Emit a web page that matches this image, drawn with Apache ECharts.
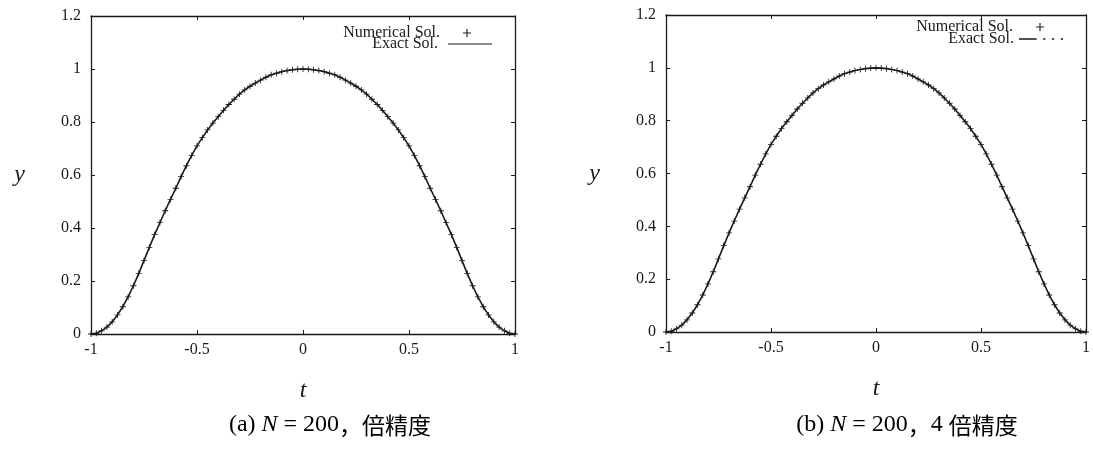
<!DOCTYPE html>
<html>
<head>
<meta charset="utf-8">
<script src="https://cdn.jsdelivr.net/npm/echarts@6/dist/echarts.min.js"></script>
<style>
html,body{margin:0;padding:0;background:#fff;}
#chart{width:1093px;height:453px;}
</style>
</head>
<body>
<div id="chart"></div>
<script>
// ---- data ----
const tValues = [
  -1, -0.975, -0.95, -0.925, -0.9, -0.875, -0.85, -0.825, -0.8, -0.775,
  -0.75, -0.725, -0.7, -0.675, -0.65, -0.625, -0.6, -0.575, -0.55, -0.525,
  -0.5, -0.475, -0.45, -0.425, -0.4, -0.375, -0.35, -0.325, -0.3, -0.275,
  -0.25, -0.225, -0.2, -0.175, -0.15, -0.125, -0.1, -0.075, -0.05, -0.025,
  0,
  0.025, 0.05, 0.075, 0.1, 0.125, 0.15, 0.175, 0.2, 0.225, 0.25,
  0.275, 0.3, 0.325, 0.35, 0.375, 0.4, 0.425, 0.45, 0.475, 0.5,
  0.525, 0.55, 0.575, 0.6, 0.625, 0.65, 0.675, 0.7, 0.725, 0.75,
  0.775, 0.8, 0.825, 0.85, 0.875, 0.9, 0.925, 0.95, 0.975, 1
];
const yNumerical = [
  0.000, 0.003, 0.012, 0.026, 0.046, 0.072, 0.103, 0.140, 0.182, 0.228,
  0.277, 0.327, 0.375, 0.420, 0.465, 0.508, 0.550, 0.594, 0.635, 0.674,
  0.710, 0.741, 0.770, 0.796, 0.820, 0.844, 0.866, 0.886, 0.905, 0.921,
  0.935, 0.947, 0.958, 0.969, 0.978, 0.984, 0.990, 0.994, 0.997, 0.999,
  1.000,
  0.999, 0.997, 0.994, 0.990, 0.984, 0.978, 0.969, 0.958, 0.947, 0.935,
  0.921, 0.905, 0.886, 0.866, 0.844, 0.820, 0.796, 0.770, 0.741, 0.710,
  0.674, 0.635, 0.594, 0.550, 0.508, 0.465, 0.420, 0.375, 0.327, 0.277,
  0.228, 0.182, 0.140, 0.103, 0.072, 0.046, 0.026, 0.012, 0.003, 0.000
];
const yExact = yNumerical.slice();
const xTicks = [-1, -0.5, 0, 0.5, 1];
const yTicks = [0, 0.2, 0.4, 0.6, 0.8, 1, 1.2];
const seriesNames = ['Numerical Sol.', 'Exact Sol.'];
const panelCaptions = [
  {label: '(a) ', n: '200', prefix: '', kanji: '倍精度'},
  {label: '(b) ', n: '200', prefix: '4 ', kanji: '倍精度'}
];

// ---- layout / style ----
const INK = '#1a1a1a';
const SERIF = 'Liberation Serif';
const grids = [
  {left: 91, top: 16, width: 424, height: 318},
  {left: 666, top: 15, width: 424, height: 317}
];
const plusPath = 'path://M4.3,0H5.7V4.3H10V5.7H5.7V10H4.3V5.7H0V4.3H4.3Z';
const solidIcon = 'path://M0,4.4H44V5.6H0Z';
const dashIcon = 'path://M0,4.4H16V5.6H0Z M22,4.4H24V5.6H22Z M30,4.4H32V5.6H30Z M38,4.4H40V5.6H38Z';

const pts = (ys) => tValues.map((t, i) => [t, ys[i]]);

function xAx(gi, bottom) {
  return {
    type: 'value', gridIndex: gi, position: bottom ? 'bottom' : 'top',
    min: xTicks[0], max: xTicks[xTicks.length - 1], interval: xTicks[1] - xTicks[0],
    splitLine: {show: false},
    axisLine: {show: true, onZero: false, lineStyle: {color: INK, width: 1.3}},
    axisTick: {show: true, inside: true, length: 4, lineStyle: {color: INK}},
    axisLabel: {show: bottom, color: INK, fontFamily: SERIF, fontSize: 16, margin: 8},
    name: bottom ? 't' : '', nameLocation: 'middle', nameGap: 45,
    nameTextStyle: {fontFamily: SERIF, fontStyle: 'italic', fontSize: 24, color: INK}
  };
}
function yAx(gi, left) {
  return {
    type: 'value', gridIndex: gi, position: left ? 'left' : 'right',
    min: yTicks[0], max: yTicks[yTicks.length - 1], interval: yTicks[1] - yTicks[0],
    splitLine: {show: false},
    axisLine: {show: true, onZero: false, lineStyle: {color: INK, width: 1.3}},
    axisTick: {show: true, inside: true, length: 4, lineStyle: {color: INK}},
    axisLabel: {show: left, color: INK, fontFamily: SERIF, fontSize: 16, margin: 10},
    name: left ? 'y' : '', nameLocation: 'middle', nameGap: 66, nameRotate: 0,
    nameTextStyle: {fontFamily: SERIF, fontStyle: 'italic', fontSize: 24, color: INK, padding: [14, 0, 0, 0]}
  };
}

const series = [];
const legends = [];
const legendRightNum = [622, 49];
const legendRightEx = [601, 30];
const legendTop = [[25, 36], [19, 31]];
const legendGapPad = [5, 0];
[0, 1].forEach(gi => {
  series.push({
    id: 'num' + gi, name: seriesNames[0], type: 'line',
    xAxisIndex: gi * 2, yAxisIndex: gi * 2,
    data: pts(yNumerical), showSymbol: true, symbol: plusPath, symbolSize: 6,
    lineStyle: {width: 0, opacity: 0}, itemStyle: {color: INK}, z: 3, animation: false
  });
  series.push({
    id: 'ex' + gi, name: seriesNames[1], type: 'line',
    xAxisIndex: gi * 2, yAxisIndex: gi * 2,
    data: pts(yExact), showSymbol: false, smooth: false,
    lineStyle: {width: 1.6, color: INK, type: 'solid'},
    itemStyle: {color: INK}, z: 2, animation: false
  });
  legends.push({
    data: [{name: seriesNames[0], icon: plusPath}],
    right: legendRightNum[gi], top: legendTop[gi][0], align: 'right', padding: 0,
    itemWidth: 44, itemHeight: 8, selectedMode: false,
    textStyle: {fontFamily: SERIF, fontSize: 16, color: INK}
  });
  legends.push({
    data: [{name: seriesNames[1], icon: gi === 0 ? solidIcon : dashIcon}],
    right: legendRightEx[gi], top: legendTop[gi][1], align: 'right', padding: 0,
    itemWidth: 44, itemHeight: 10, selectedMode: false,
    textStyle: {fontFamily: SERIF, fontSize: 16, color: INK, padding: [0, legendGapPad[gi], 0, 0]}
  });
});

const captionRich = {
  n: {fontFamily: SERIF, fontSize: 24, color: INK},
  i: {fontFamily: SERIF, fontStyle: 'italic', fontSize: 24, color: INK},
  j: {fontFamily: 'Noto Sans CJK JP', fontSize: 23, color: INK}
};
const captionPos = [[330, 425], [907, 425]];
const graphics = panelCaptions.map((c, k) => ({
  type: 'text', x: captionPos[k][0], y: captionPos[k][1],
  style: {
    text: '{n|' + c.label + '}{i|N}{n| = ' + c.n + '}{j|，}{n|' + c.prefix + '}{j|' + c.kanji + '}',
    rich: captionRich, align: 'center', verticalAlign: 'middle'
  }
}));

const chart = echarts.init(document.getElementById('chart'), null, {renderer: 'canvas'});
chart.setOption({
  backgroundColor: '#fff',
  animation: false,
  grid: grids,
  xAxis: [xAx(0, true), xAx(0, false), xAx(1, true), xAx(1, false)],
  yAxis: [yAx(0, true), yAx(0, false), yAx(1, true), yAx(1, false)],
  legend: legends,
  series: series,
  graphic: graphics
});
</script>
</body>
</html>
